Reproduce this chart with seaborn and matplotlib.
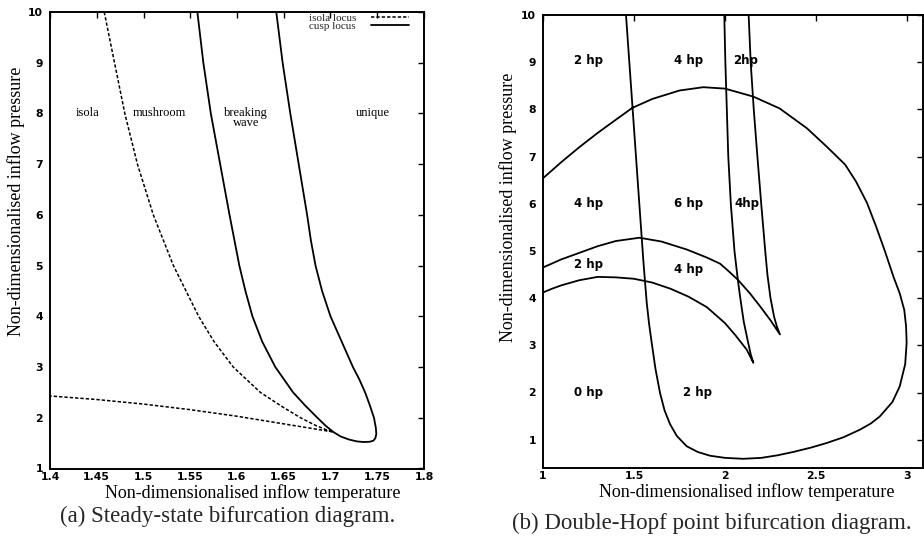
import matplotlib
matplotlib.use("Agg")
import matplotlib.pyplot as plt
import seaborn as sns
import pandas as pd

# ---------------- (a) steady-state bifurcation diagram ----------------
# isola locus: upper branch from the top edge down to the cusp point,
# then the lower branch back out to the left edge
isola_T = [1.458, 1.469, 1.480, 1.4935, 1.5105, 1.532, 1.559, 1.5755, 1.596, 1.625,
           1.650, 1.668, 1.684, 1.696, 1.703,
           1.680, 1.650, 1.600, 1.550, 1.500, 1.450, 1.400]
isola_P = [10.0, 9.0, 8.0, 7.0, 6.0, 5.0, 4.0, 3.5, 3.0, 2.5,
           2.2, 2.0, 1.85, 1.76, 1.72,
           1.79, 1.88, 2.03, 2.16, 2.27, 2.36, 2.43]

# cusp locus: left branch down, round the bottom, right branch up
cusp_T = [1.5576, 1.564, 1.572, 1.582, 1.592, 1.6025, 1.609, 1.6165, 1.627, 1.641,
          1.660, 1.6725, 1.686, 1.695, 1.703, 1.711, 1.720, 1.728, 1.735, 1.742,
          1.746, 1.748, 1.749, 1.7485, 1.7465, 1.742, 1.737, 1.731, 1.724, 1.712,
          1.700, 1.691, 1.684, 1.679, 1.675, 1.666, 1.657, 1.6488, 1.642]
cusp_P = [10.0, 9.0, 8.0, 7.0, 6.0, 5.0, 4.5, 4.0, 3.5, 3.0,
          2.5, 2.25, 2.0, 1.84, 1.72, 1.63, 1.57, 1.535, 1.522, 1.527,
          1.55, 1.60, 1.68, 1.80, 2.0, 2.25, 2.5, 2.75, 3.0, 3.5,
          4.0, 4.5, 5.0, 5.5, 6.0, 7.0, 8.0, 9.0, 10.0]

regions_a = ["isola", "mushroom", "breaking\nwave", "unique"]
regions_a_T = [1.44, 1.517, 1.61, 1.745]
regions_a_P = [8.0, 8.0, 7.91, 8.0]

xticks_a = [1.4, 1.45, 1.5, 1.55, 1.6, 1.65, 1.7, 1.75, 1.8]
xticklabels_a = ["1.4", "1.45", "1.5", "1.55", "1.6", "1.65", "1.7", "1.75", "1.8"]
yticks = [1, 2, 3, 4, 5, 6, 7, 8, 9, 10]

# ---------------- (b) double-Hopf point bifurcation diagram ----------------
# outer curve: steep line from the top, round the bottom loop, up the right,
# over the big arc and out at the left edge
loop_T = [1.456, 1.4743, 1.4926, 1.5109, 1.5292, 1.5426, 1.551, 1.5605, 1.570, 1.583,
          1.597, 1.618, 1.643, 1.668, 1.698, 1.735, 1.79, 1.85, 1.918, 2.0,
          2.10, 2.20, 2.29, 2.375, 2.47, 2.559, 2.65, 2.74, 2.80, 2.85,
          2.92, 2.96, 2.99, 2.998, 2.995, 2.985, 2.96, 2.925, 2.88, 2.83,
          2.78, 2.72, 2.66, 2.559, 2.45, 2.30, 2.156, 2.0, 1.881, 1.75,
          1.6, 1.49, 1.4, 1.3, 1.2, 1.1, 1.0]
loop_P = [10.0, 9.0, 8.0, 7.0, 6.0, 5.27, 4.81, 4.35, 3.90, 3.45,
          3.06, 2.5, 1.99, 1.62, 1.33, 1.08, 0.86, 0.74, 0.66, 0.615,
          0.595, 0.615, 0.67, 0.74, 0.83, 0.93, 1.05, 1.21, 1.34, 1.49,
          1.80, 2.13, 2.60, 3.05, 3.40, 3.75, 4.10, 4.46, 4.98, 5.52,
          6.02, 6.47, 6.83, 7.21, 7.60, 8.02, 8.27, 8.44, 8.47, 8.40,
          8.22, 8.03, 7.78, 7.50, 7.20, 6.88, 6.54]

# middle curve: arc from the left edge to the right cusp, then up to the top
upper_T = [1.0, 1.1, 1.2, 1.3, 1.4, 1.53, 1.65, 1.79, 1.90, 1.973,
           2.02, 2.073, 2.137, 2.19, 2.25, 2.302, 2.285, 2.270, 2.250, 2.233,
           2.221, 2.199, 2.178, 2.158, 2.141, 2.130]
upper_P = [4.65, 4.82, 4.96, 5.10, 5.21, 5.28, 5.20, 5.03, 4.86, 4.73,
           4.57, 4.38, 4.10, 3.84, 3.53, 3.23, 3.40, 3.60, 4.00, 4.50,
           5.00, 6.00, 7.00, 8.00, 9.00, 10.0]

# inner curve: arc from the left edge to the left cusp, then up to the top
lower_T = [1.0, 1.05, 1.1, 1.2, 1.3, 1.4, 1.5, 1.6, 1.7, 1.8,
           1.9, 2.0, 2.06, 2.119, 2.156, 2.142, 2.127, 2.103, 2.084, 2.071,
           2.052, 2.032, 2.018, 2.010, 2.002, 1.996]
lower_P = [4.12, 4.20, 4.27, 4.38, 4.45, 4.44, 4.41, 4.33, 4.20, 4.03,
           3.81, 3.47, 3.20, 2.91, 2.63, 2.80, 3.06, 3.50, 4.00, 4.37,
           5.00, 6.00, 7.00, 8.00, 9.00, 10.0]

regions_b = ["2 hp", "4 hp", "2hp", "4 hp", "6 hp", "4hp", "2 hp", "4 hp", "0 hp", "2 hp"]
regions_b_T = [1.25, 1.80, 2.115, 1.25, 1.80, 2.12, 1.25, 1.80, 1.25, 1.85]
regions_b_P = [9.03, 9.03, 9.03, 6.0, 6.0, 6.0, 4.71, 4.60, 1.99, 1.99]

xticks_b = [1, 1.5, 2, 2.5, 3]
xticklabels_b = ["1", "1.5", "2", "2.5", "3"]

# ---------------- styling ----------------
sns.set_theme(style="white")
plt.rcParams["font.family"] = ["DejaVu Sans"]
SERIF = "Liberation Serif"
LW = 1.3

fig = plt.figure(figsize=(9.24, 5.44), dpi=100)
ax_a = fig.add_axes([50 / 924, 75.5 / 544, 374 / 924, 456.5 / 544])
ax_b = fig.add_axes([543 / 924, 76 / 544, 379.5 / 924, 453 / 544])


def style_axes(ax, xticks, xlabels, xlim, ylim):
    ax.set_xlim(*xlim)
    ax.set_ylim(*ylim)
    ax.set_xticks(xticks)
    ax.set_xticklabels(xlabels)
    ax.set_yticks(yticks)
    ax.set_yticklabels([str(v) for v in yticks])
    ax.tick_params(direction="in", top=True, right=True, length=4.5, width=1.0,
                   color="black", labelsize=7.8, labelcolor="black")
    ax.tick_params(axis="x", pad=2.5)
    ax.tick_params(axis="y", pad=5)
    for lab in ax.get_xticklabels() + ax.get_yticklabels():
        lab.set_fontweight("bold")
        lab.set_family("DejaVu Sans")
    for sp in ax.spines.values():
        sp.set_color("black")
        sp.set_linewidth(1.4)
    ax.set_xlabel("Non-dimensionalised inflow temperature", family=SERIF,
                  fontsize=13, color="black")
    ax.set_ylabel("Non-dimensionalised inflow pressure", family=SERIF,
                  fontsize=13, color="black")
    ax.grid(False)


# panel (a)
df_isola = pd.DataFrame({"T": isola_T, "P": isola_P})
df_cusp = pd.DataFrame({"T": cusp_T, "P": cusp_P})
sns.lineplot(data=df_isola, x="T", y="P", sort=False, estimator=None, ax=ax_a,
             color="black", lw=1.1, linestyle=(0, (2.2, 1.3)), label="isola locus")
sns.lineplot(data=df_cusp, x="T", y="P", sort=False, estimator=None, ax=ax_a,
             color="black", lw=LW, label="cusp locus")
style_axes(ax_a, xticks_a, xticklabels_a, (1.4, 1.8), (1, 10))
ax_a.xaxis.set_label_coords(0.541, -0.034)
ax_a.yaxis.set_label_coords(-0.068, 0.585)
for name, t, p in zip(regions_a, regions_a_T, regions_a_P):
    ax_a.text(t, p, name, family=SERIF, fontsize=9, ha="center", va="center",
              linespacing=0.8, color="black")
ax_a.legend(loc="upper right", bbox_to_anchor=(0.973, 1.008), borderaxespad=0,
            frameon=False, markerfirst=False, handlelength=3.5,
            handletextpad=1.3, labelspacing=-0.15,
            prop={"family": SERIF, "size": 8})

# panel (b)
for tt, pp in [(loop_T, loop_P), (upper_T, upper_P), (lower_T, lower_P)]:
    sns.lineplot(x=tt, y=pp, sort=False, estimator=None, ax=ax_b,
                 color="black", lw=LW)
style_axes(ax_b, xticks_b, xticklabels_b, (1, 1 + 379.5 / 182), (0.4, 10))
ax_b.xaxis.set_label_coords(0.536, -0.034)
ax_b.yaxis.set_label_coords(-0.068, 0.575)
for name, t, p in zip(regions_b, regions_b_T, regions_b_P):
    ax_b.text(t, p, name, fontsize=8.5, fontweight="bold", ha="center", va="center",
              color="black")

# captions
fig.text(228 / 924, 1 - 521.7 / 544, "(a) Steady-state bifurcation diagram.",
         family=SERIF, fontsize=16.5, ha="center", va="baseline")
fig.text(712 / 924, 1 - 529 / 544, "(b) Double-Hopf point bifurcation diagram.",
         family=SERIF, fontsize=16.5, ha="center", va="baseline")

fig.savefig("out.png", dpi=100, facecolor="white")
